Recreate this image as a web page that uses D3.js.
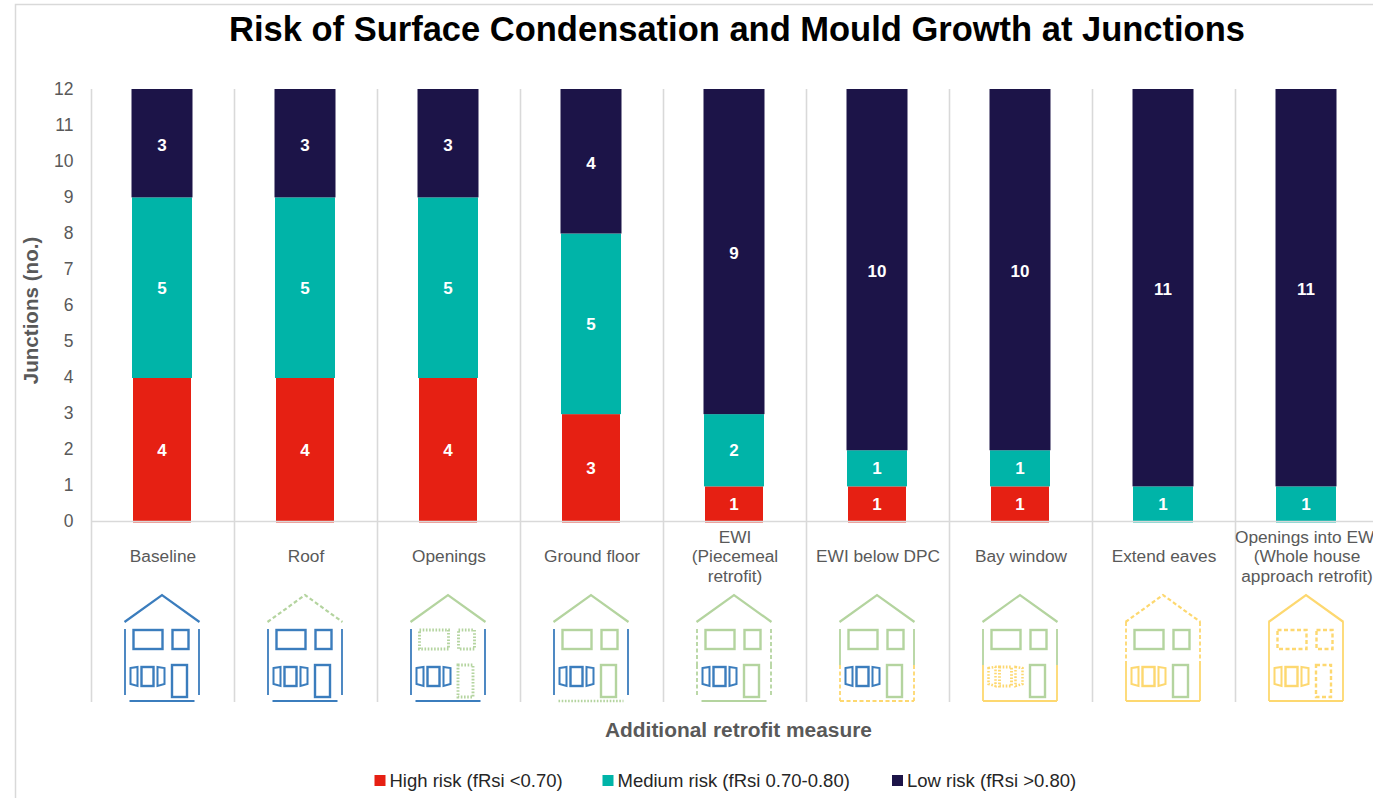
<!DOCTYPE html>
<html><head><meta charset="utf-8">
<script src="https://cdn.jsdelivr.net/npm/d3@7"></script>
<style>html,body{margin:0;padding:0;background:#fff;overflow:hidden}svg{display:block;font-family:"Liberation Sans",Arial,sans-serif}</style>
</head><body><div id="c"></div>
<script>
const categories=["Baseline","Roof","Openings","Ground floor","EWI|(Piecemeal|retrofit)","EWI below DPC","Bay window","Extend eaves","Openings into EWI|(Whole house|approach retrofit)"];
const highRisk=[4,4,4,3,1,1,1,0,0];
const mediumRisk=[5,5,5,5,2,1,1,1,1];
const lowRisk=[3,3,3,4,9,10,10,11,11];
const yTicks=[0,1,2,3,4,5,6,7,8,9,10,11,12];
const seriesNames=["High risk (fRsi <0.70)","Medium risk (fRsi 0.70-0.80)","Low risk (fRsi >0.80)"];
const seriesColors=["#e62013","#00b4a8","#1c1448"];
// retrofit state of each house element, per category: b blue, g green, y yellow; "-" dashed, ":" dotted
const roofState=["b","g-","g","g","g","g","g","y-","y"];
const upperWallState=["b","b","b","b","g-","g","g","y-","y"];
const lowerWallState=["b","b","b","b","g-","y-","y","y","y"];
const floorState=["b","b","b","g:","g","y-","y","y","y"];
const windowState=["b","b","g:","g","g","g","g","g","y-"];
const bayState=["b","b","b","b","b","b","y:","y","y"];
const doorState=["b","b","g:","g","g","g","g","g","y-"];

const W=1373,H=798;
const svg=d3.select("#c").append("svg").attr("width",W).attr("height",H);
const defs=svg.append("defs");
defs.append("filter").attr("id","soft").attr("x","-5%").attr("y","-5%").attr("width","110%").attr("height","110%")
  .append("feGaussianBlur").attr("stdDeviation",0.4);
const x=d3.scaleBand().domain(d3.range(categories.length)).range([91,1378]).paddingInner(0).paddingOuter(0);
const y=d3.scaleLinear().domain([0,12]).range([522.5,89]);
const yLabel=d3.scaleLinear().domain([0,12]).range([521,89]);
const barW=[58,60,61];
const labelDy=[6,6,7.5];
const grey="#595959", line="#d9d9d9";

// chart frame
svg.append("path").attr("d",`M15.5 ${H}V4.5H${W}`).attr("fill","none").attr("stroke",line).attr("stroke-width",1.5);

// category dividers
svg.append("g").selectAll("line").data(d3.range(categories.length)).join("line")
  .attr("x1",d=>x(d)+.5).attr("x2",d=>x(d)+.5).attr("y1",y(12)).attr("y2",702)
  .attr("stroke",line).attr("stroke-width",1.6);

// stacked bars
const rows=categories.map((c,i)=>({i,high:highRisk[i],medium:mediumRisk[i],low:lowRisk[i]}));
const stack=d3.stack().keys(["high","medium","low"])(rows);
const g=svg.append("g");
const cxOf=i=>x(i)+x.bandwidth()/2-.5;
stack.forEach((s,k)=>{
  g.selectAll(null).data(s.filter(d=>d[1]>d[0])).join("rect")
    .attr("x",d=>cxOf(d.data.i)-barW[k]/2).attr("width",barW[k])
    .attr("y",d=>y(d[1])).attr("height",d=>y(d[0])-y(d[1]))
    .attr("fill",seriesColors[k]);
});
svg.append("line").attr("x1",91).attr("x2",W).attr("y1",521.5).attr("y2",521.5).attr("stroke",line).attr("stroke-width",1.4);
const labelLayer=svg.append("g");
stack.forEach((s,k)=>{
  labelLayer.selectAll(null).data(s.filter(d=>d[1]>d[0])).join("text")
    .attr("x",d=>cxOf(d.data.i)).attr("y",d=>y((d[0]+d[1])/2)+labelDy[k])
    .attr("text-anchor","middle").attr("font-size",17).attr("font-weight","bold").attr("fill","#fff")
    .text(d=>d[1]-d[0]);
});

// y axis
const yAxis=d3.axisLeft(yLabel).tickValues(yTicks).tickSize(0).tickPadding(0).tickFormat(d3.format("d"));
const ya=svg.append("g").attr("transform","translate(73.5,0)").call(yAxis);
ya.select(".domain").remove();
ya.selectAll("text").attr("font-size",17.5).attr("fill",grey).attr("font-family","Liberation Sans");

// category labels
const labels=svg.append("g").attr("fill",grey).attr("font-size",17.3).attr("text-anchor","middle");
categories.forEach((c,i)=>{
  const parts=c.split("|");
  parts.forEach((p,j)=>labels.append("text")
    .attr("x",x(i)+x.bandwidth()/2+.5)
    .attr("y",562+(j-(parts.length-1)/2)*19.5).text(p));
});

// houses
const palette={b:"#3b7dbd",g:"#b4d49f",y:"#fdd86f"};
const houseLayer=svg.append("g").attr("filter","url(#soft)").attr("fill","none");
function st(sel,s,w){
  const mode=s[1];
  return sel.attr("stroke",palette[s[0]]).attr("stroke-width",mode===":"?w+.5:w)
    .attr("stroke-dasharray",mode==="-"?"4 2.5":mode===":"?"1.6 1.6":null);
}
const house=d3.line();
categories.forEach((c,i)=>{
  const cx=cxOf(i)+.5;
  const h=houseLayer.append("g").attr("transform",`translate(${cx},0)`);
  const extended=i>=7;
  st(h.append("path").attr("d",house([[-38,622],[-0.5,595],[37,622]])),roofState[i],2.2);
  const wallTop=extended?622:629;
  [-37.5,36.5].forEach(wx=>{
    st(h.append("path").attr("d",house([[wx,wallTop],[wx,665]])),upperWallState[i],1.8);
    st(h.append("path").attr("d",house([[wx,665],[wx,i>=5?701:695]])),lowerWallState[i],1.8);
  });
  st(h.append("path").attr("d",house([[i>=5?-37.5:-33,701],[i>=5?36.5:32,701]])),floorState[i],2.2);
  [[-29,630,29,19],[10,630,16,19]].forEach(r=>
    st(h.append("rect").attr("x",r[0]).attr("y",r[1]).attr("width",r[2]).attr("height",r[3]),windowState[i],2.4));
  st(h.append("rect").attr("x",9.5).attr("y",665).attr("width",15).attr("height",32),doorState[i],2.4);
  st(h.append("path").attr("d","M-32 668L-25 667V686L-32 684Z"),bayState[i],2);
  st(h.append("rect").attr("x",-21).attr("y",667).attr("width",12).attr("height",19),bayState[i],2.4);
  st(h.append("path").attr("d","M-5 667L2 668V684L-5 686Z"),bayState[i],2);
});

// titles
svg.append("text").attr("x",737).attr("y",41).attr("text-anchor","middle").attr("font-size",34.5).attr("font-weight","bold").attr("fill","#000")
  .text("Risk of Surface Condensation and Mould Growth at Junctions");
svg.append("text").attr("transform","translate(38,310.5) rotate(-90)").attr("text-anchor","middle").attr("font-size",20.6).attr("font-weight","bold").attr("fill",grey).text("Junctions (no.)");
svg.append("text").attr("x",738.5).attr("y",737).attr("text-anchor","middle").attr("font-size",20.9).attr("font-weight","bold").attr("fill",grey).text("Additional retrofit measure");

// legend
const lx=[374.5,602.5,892];
seriesNames.forEach((n,k)=>{
  svg.append("rect").attr("x",lx[k]).attr("y",775).attr("width",11).attr("height",11).attr("fill",seriesColors[k]);
  svg.append("text").attr("x",lx[k]+15).attr("y",787).attr("font-size",18.5).attr("fill","#262626").text(n);
});
</script></body></html>
